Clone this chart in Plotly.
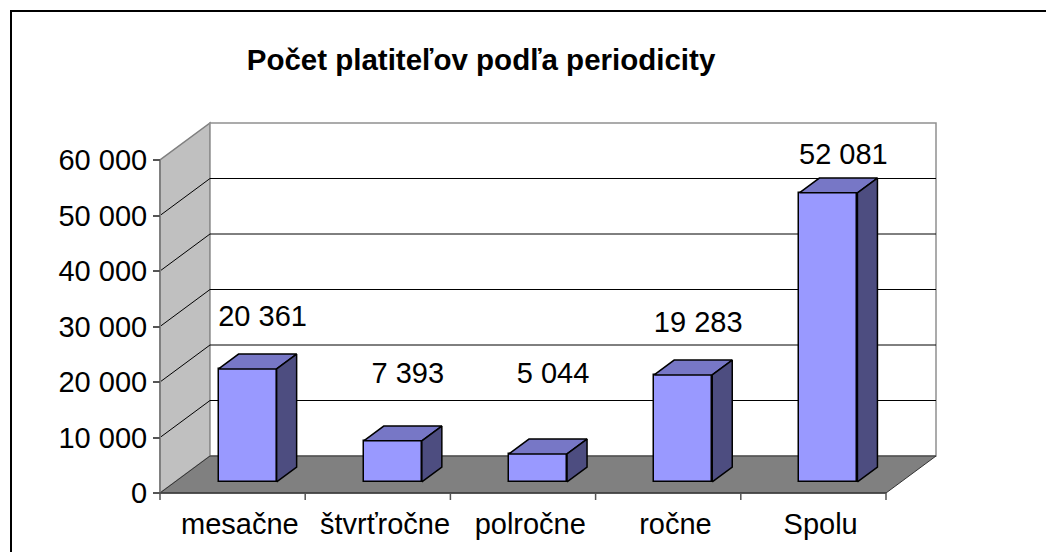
import plotly.graph_objects as go

# ---------------- data ----------------
categories = ["mesačne", "štvrťročne", "polročne", "ročne", "Spolu"]
values = [20361, 7393, 5044, 19283, 52081]
y_ticks = [0, 10000, 20000, 30000, 40000, 50000, 60000]
y_tick_labels = ["0", "10 000", "20 000", "30 000", "40 000", "50 000", "60 000"]
title_text = "Počet platiteľov podľa periodicity"

# ---------------- layout constants ----------------
OFF = 8                          # page body margin of the browser
W, H = 1054 - OFF, 552 - OFF
ML, MR, MT, MB = 122, 72, 92, 7
X0PX, Y0PX = 160 - OFF, 493 - OFF   # pixel of the front origin (category 0, value 0)
UX = 145.2                      # px per category
UY = 55.5 / 10000               # px per value unit
xr = [(ML - X0PX) / UX, (W - MR - X0PX) / UX]
yr = [(Y0PX - (H - MB)) / UY, (Y0PX - MT) / UY]
DDX = 50 / UX                   # full depth offset in x (data units)
DDY = 37 / UY                   # full depth offset in y (data units)
D1, D2 = 0.3, 0.7               # bar front/back depth fraction
BW = 0.4                        # bar width in category units
YMAX = y_ticks[-1]
NC = len(categories)
TICKLEN = 7

FONT = "Liberation Sans, Arial, sans-serif"
FRONT = "#9999FF"
TOP = "#7777C6"
SIDE = "#4D4D80"

fig = go.Figure()

# front faces as bars
xc = [i + 0.5 + D1 * DDX for i in range(NC)]
fig.add_trace(go.Bar(
    x=xc, y=values, base=[D1 * DDY] * NC, width=[BW] * NC,
    marker=dict(color=FRONT, line=dict(color="black", width=1.5)),
    hoverinfo="skip", showlegend=False))

# top and side faces
dd_x = (D2 - D1) * DDX
b1, b2 = D1 * DDY, D2 * DDY
for i, v in enumerate(values):
    xl = xc[i] - BW / 2
    xrr = xc[i] + BW / 2
    fig.add_trace(go.Scatter(
        x=[xl, xrr, xrr + dd_x, xl + dd_x, xl],
        y=[v + b1, v + b1, v + b2, v + b2, v + b1],
        mode="lines", fill="toself", fillcolor=TOP,
        line=dict(color="black", width=1.5), hoverinfo="skip", showlegend=False))
    fig.add_trace(go.Scatter(
        x=[xrr, xrr, xrr + dd_x, xrr + dd_x, xrr],
        y=[b1, v + b1, v + b2, b2, b1],
        mode="lines", fill="toself", fillcolor=SIDE,
        line=dict(color="black", width=1.5), hoverinfo="skip", showlegend=False))

# data labels
lab_vals = [min(max(v + 9100, 19100), 58600) for v in values]
fig.add_trace(go.Scatter(
    x=[i + 0.5 + 0.6 * DDX for i in range(NC)],
    y=[lv + D1 * DDY for lv in lab_vals],
    mode="text",
    text=[f"{v:,}".replace(",", " ") for v in values],
    textfont=dict(family=FONT, size=29, color="black"),
    textposition="middle center", hoverinfo="skip", showlegend=False,
    cliponaxis=False))

shapes = []
# left wall
shapes.append(dict(type="path", xref="x", yref="y", layer="below",
                   path=f"M 0 0 L 0 {YMAX} L {DDX} {YMAX + DDY} L {DDX} {DDY} Z",
                   fillcolor="#C0C0C0", line=dict(color="#808080", width=1.5)))
# back wall
shapes.append(dict(type="path", xref="x", yref="y", layer="below",
                   path=f"M {DDX} {DDY} L {DDX} {YMAX + DDY} L {NC + DDX} {YMAX + DDY} L {NC + DDX} {DDY} Z",
                   fillcolor="white", line=dict(color="#909090", width=1.5)))
# floor
shapes.append(dict(type="path", xref="x", yref="y", layer="below",
                   path=f"M 0 0 L {NC} 0 L {NC + DDX} {DDY} L {DDX} {DDY} Z",
                   fillcolor="#808080", line=dict(color="#333333", width=1)))
# gridlines
for t in y_ticks[1:-1]:
    shapes.append(dict(type="line", xref="x", yref="y", layer="below",
                       x0=0, y0=t, x1=DDX, y1=t + DDY, line=dict(color="black", width=1)))
    shapes.append(dict(type="line", xref="x", yref="y", layer="below",
                       x0=DDX, y0=t + DDY, x1=NC + DDX, y1=t + DDY, line=dict(color="black", width=1)))
# front axis lines
shapes.append(dict(type="line", xref="x", yref="y", layer="below",
                   x0=0, y0=0, x1=0, y1=YMAX, line=dict(color="#808080", width=2)))
shapes.append(dict(type="line", xref="x", yref="y", layer="below",
                   x0=0, y0=0, x1=NC, y1=0, line=dict(color="#404040", width=1.5)))
# category boundary ticks
for k in range(NC + 1):
    shapes.append(dict(type="line", xref="x", yref="y", layer="above",
                       x0=k, y0=0, x1=k, y1=-TICKLEN / UY,
                       line=dict(color="#555", width=1.5)))
# chart border
pw, ph = W - ML - MR, H - MT - MB
shapes.append(dict(type="rect", xref="paper", yref="paper",
                   x0=(11 - OFF - ML) / pw, x1=(W + 20 - ML) / pw,
                   y0=(H - MB - (H + 20)) / ph, y1=(H - MB - (11 - OFF)) / ph,
                   line=dict(color="black", width=2), fillcolor="rgba(0,0,0,0)"))

xpos = (0 - yr[0]) / (yr[1] - yr[0])
ypos = (0 - xr[0]) / (xr[1] - xr[0])

fig.update_layout(
    width=W, height=H,
    margin=dict(l=ML, r=MR, t=MT, b=MB),
    paper_bgcolor="white", plot_bgcolor="white",
    showlegend=False, shapes=shapes, bargap=0,
    title=dict(text=title_text, x=(481 - OFF) / W, xanchor="center",
               y=1 - (60 - OFF) / H, yref="container", yanchor="middle",
               font=dict(family=FONT, size=29.5, color="black", weight="bold")),
    xaxis=dict(range=xr, tickvals=[i + 0.55 for i in range(NC)], ticktext=categories,
               ticks="", showgrid=False, zeroline=False, showline=False,
               anchor="free", position=xpos, ticklabelstandoff=11,
               tickfont=dict(family=FONT, size=29, color="black"), fixedrange=True),
    yaxis=dict(range=yr, tickvals=y_ticks, ticktext=y_tick_labels,
               ticks="outside", ticklen=TICKLEN, tickcolor="#555", tickwidth=1.5,
               showgrid=False, zeroline=False, showline=False,
               anchor="free", position=ypos,
               tickfont=dict(family=FONT, size=29, color="black"), fixedrange=True),
)

fig.write_html("out.html")
